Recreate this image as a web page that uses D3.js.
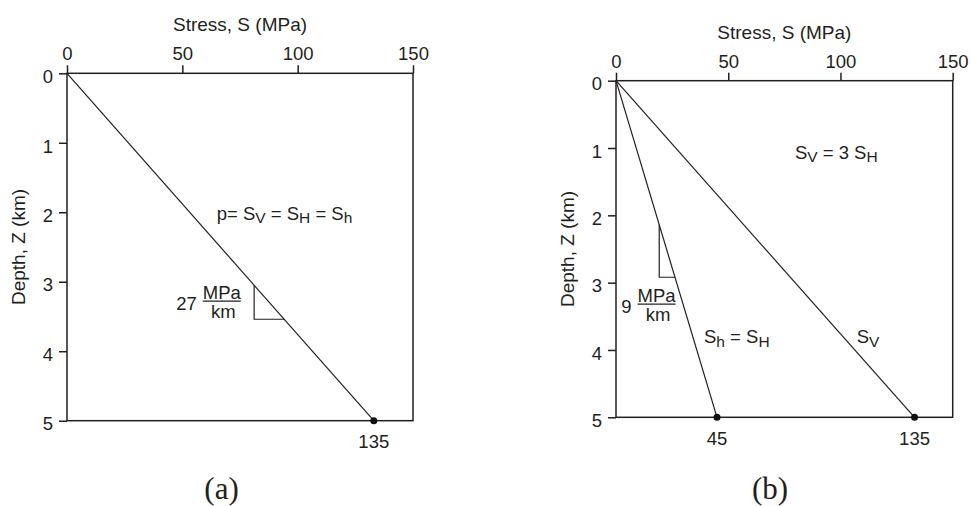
<!DOCTYPE html>
<html lang="en">
<head>
<meta charset="utf-8">
<script src="https://d3js.org/d3.v7.min.js"></script>
<style>
body { margin: 0; background: #fff; }
text {
  font-family: "Liberation Sans", Arial, sans-serif;
  font-size: 18.5px;
  fill: #231f20;
}
.title { font-size: 19px; }
.caption {
  font-family: "Liberation Serif", "Times New Roman", serif;
  font-size: 31px;
}
.frame { fill: none; stroke: #231f20; stroke-width: 1.5; }
.tick line { stroke: #231f20; stroke-width: 1.5; }
.profile, .slope { fill: none; stroke: #231f20; stroke-width: 1.2; }
.fracline { stroke: #231f20; stroke-width: 1.2; }
.dot { fill: #111; }
</style>
</head>
<body>
<svg width="971" height="506"></svg>
<script>

// axes
var stressTicks = [0, 50, 100, 150];
var depthTicks = [0, 1, 2, 3, 4, 5];
var stressDomain = [0, 150];
var depthDomain = [0, 5];

// profiles: depth (km) at both ends, stress (MPa)
var depthKm = [0, 5];
var stressA = [0, 133];      // (a) p = Sv = SH = Sh
var stressShB = [0, 45];     // (b) Sh = SH
var stressSvB = [0, 133];    // (b) Sv
var endLabelsA = ["135"];
var endLabelsB = ["45", "135"];

// gradient triangles: depth span (km) and the gradient value
var slopeDepthA = [3.05, 3.54];
var slopeDepthB = [2.14, 2.92];
var gradients = ["27", "9"];

var svg = d3.select("svg");

var panels = [
  {
    left: 67, top: 73.3, width: 346, height: 347.4,
    caption: "(a)", captionS: 67,
    profiles: [{ s: stressA, label: endLabelsA[0] }],
    slope: { profile: 0, z: slopeDepthA, grad: gradients[0], s: 67.1, zl: 3.28 },
    notes: [{ text: "p= S_V = S_H = S_h", s: 64.9, z: 2.11 }]
  },
  {
    left: 616, top: 80.7, width: 336.7, height: 336.6,
    caption: "(b)", captionS: 68.6,
    profiles: [{ s: stressShB, label: endLabelsB[0] }, { s: stressSvB, label: endLabelsB[1] }],
    slope: { profile: 0, z: slopeDepthB, grad: gradients[1], s: 18.1, zl: 3.32 },
    notes: [
      { text: "S_V = 3 S_H", s: 79.7, z: 1.163 },
      { text: "S_h = S_H", s: 39.2, z: 3.90 },
      { text: "S_V", s: 107.2, z: 3.90 }
    ]
  }
];

panels.forEach(drawPanel);

// "S_V" -> S with subscript V
function subText(sel, str) {
  var parts = str.split(/_(.)/);
  var shift = 0;
  parts.forEach(function(p, i) {
    var sub = i % 2 === 1;
    var dy = sub ? 3.5 : -shift;
    shift = sub ? 3.5 : 0;
    var t = sel.append("tspan").attr("dy", dy).text(p);
    if (sub) t.style("font-size", "15.5px");
  });
}

function drawPanel(p) {
  var g = svg.append("g").attr("transform", "translate(" + p.left + "," + p.top + ")");

  var x = d3.scaleLinear().domain(stressDomain).range([0, p.width]);
  var y = d3.scaleLinear().domain(depthDomain).range([0, p.height]);

  g.append("g")
      .call(d3.axisTop(x).tickValues(stressTicks).tickFormat(d3.format("d"))
        .tickSize(8).tickSizeOuter(0).tickPadding(5))
      .call(function(a) { a.select(".domain").remove(); });

  g.append("g")
      .call(d3.axisLeft(y).tickValues(depthTicks).tickFormat(d3.format("d"))
        .tickSize(8).tickSizeOuter(0).tickPadding(6))
      .call(function(a) { a.select(".domain").remove(); })
      .selectAll("text").attr("dy", "0.5em");

  g.append("rect")
      .attr("class", "frame")
      .attr("width", x(stressDomain[1]))
      .attr("height", y(depthDomain[1]));

  // axis titles
  g.append("text")
      .attr("class", "title")
      .attr("x", p.width / 2)
      .attr("y", -42)
      .attr("text-anchor", "middle")
      .text("Stress, S (MPa)");

  g.append("text")
      .attr("class", "title")
      .attr("transform", "translate(-49," + (p.height / 2) + ") rotate(-90)")
      .attr("dy", "0.35em")
      .attr("text-anchor", "middle")
      .text("Depth, Z (km)");

  var line = d3.line()
      .x(function(d) { return x(d.s); })
      .y(function(d) { return y(d.z); });

  p.profiles.forEach(function(pr) {
    var pts = depthKm.map(function(z, i) { return { z: z, s: pr.s[i] }; });
    g.append("path").attr("class", "profile").attr("d", line(pts));

    var end = pts[pts.length - 1];
    g.append("circle").attr("class", "dot")
        .attr("cx", x(end.s)).attr("cy", y(end.z)).attr("r", 3.5);
    g.append("text")
        .attr("x", x(end.s))
        .attr("y", y(end.z) + 27.5)
        .attr("text-anchor", "middle")
        .text(pr.label);
  });

  // gradient triangle under the profile
  var sl = p.slope;
  var sAt = d3.scaleLinear().domain(depthKm).range(p.profiles[sl.profile].s);
  g.append("path")
      .attr("class", "slope")
      .attr("d", "M" + x(sAt(sl.z[0])) + "," + y(sl.z[0]) +
                 "V" + y(sl.z[1]) + "H" + x(sAt(sl.z[1])));

  var fx = x(sl.s), fy = y(sl.zl);
  var frac = g.append("g").attr("transform", "translate(" + fx + "," + fy + ")");
  frac.append("line").attr("class", "fracline").attr("x1", -19).attr("x2", 19);
  frac.append("text").attr("y", -2).attr("text-anchor", "middle").text("MPa");
  frac.append("text").attr("y", 17).attr("x", 1.5).attr("text-anchor", "middle").text("km");
  frac.append("text").attr("y", 9).attr("x", -25).attr("text-anchor", "end").text(sl.grad);

  p.notes.forEach(function(n) {
    g.append("text")
        .attr("x", x(n.s))
        .attr("y", y(n.z))
        .call(subText, n.text);
  });

  svg.append("text")
      .attr("class", "caption")
      .attr("x", p.left + x(p.captionS))
      .attr("y", 499)
      .attr("text-anchor", "middle")
      .text(p.caption);
}

</script>
</body>
</html>
